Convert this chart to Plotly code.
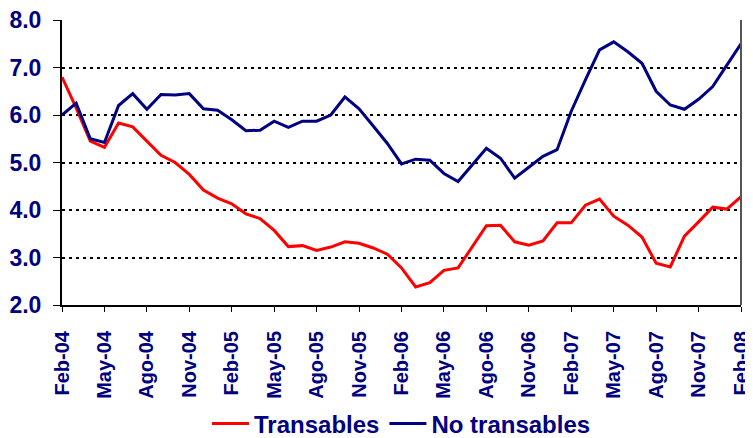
import plotly.graph_objects as go

meses = ["Feb", "Mar", "Abr", "May", "Jun", "Jul", "Ago", "Sep", "Oct", "Nov", "Dic", "Ene"]
# 49 monthly labels, Feb-04 .. Feb-08
fechas = []
for i in range(49):
    m = meses[i % 12]
    yr = 4 + (i + 1) // 12
    fechas.append(f"{m}-{yr:02d}")

transables = [6.80, 6.15, 5.45, 5.32, 5.83, 5.75, 5.45, 5.15, 5.00, 4.75, 4.42, 4.25,
              4.13, 3.92, 3.82, 3.57, 3.23, 3.25, 3.15, 3.22, 3.33, 3.30, 3.20, 3.07,
              2.78, 2.38, 2.47, 2.73, 2.78, 3.22, 3.67, 3.68, 3.33, 3.26, 3.35, 3.73,
              3.73, 4.10, 4.23, 3.87, 3.68, 3.43, 2.88, 2.80, 3.45, 3.75, 4.06, 4.02, 4.28]

no_transables = [6.00, 6.25, 5.50, 5.42, 6.20, 6.45, 6.12, 6.43, 6.42, 6.45, 6.13, 6.10,
                 5.90, 5.67, 5.68, 5.87, 5.74, 5.87, 5.87, 6.00, 6.38, 6.13, 5.77, 5.40,
                 4.97, 5.07, 5.05, 4.77, 4.60, 4.95, 5.30, 5.09, 4.67, 4.90, 5.13, 5.27,
                 6.08, 6.74, 7.37, 7.54, 7.33, 7.09, 6.50, 6.21, 6.12, 6.33, 6.60, 7.05, 7.50]

tick_fechas = fechas[::3]
y_ticks = [2, 3, 4, 5, 6, 7, 8]
navy = "#000080"
fuente = "Liberation Sans, Arial"

fig = go.Figure()
fig.add_trace(go.Scatter(x=fechas, y=transables, name="<b>Transables</b>", mode="lines",
                         line=dict(color="#ff0000", width=3)))
fig.add_trace(go.Scatter(x=fechas, y=no_transables, name="<b>No transables</b>", mode="lines",
                         line=dict(color=navy, width=3)))

# the page body adds an 8px margin, so left/top margins are 8px smaller;
# extra height below keeps the legend from squeezing the plot
fig.update_layout(
    width=753, height=470,
    margin=dict(l=54, r=20, t=12, b=173),
    paper_bgcolor="white", plot_bgcolor="white",
    font=dict(family=fuente, color=navy),
    showlegend=True,
    legend=dict(orientation="h", x=0.5, xanchor="center", y=-0.4175, yanchor="middle",
                font=dict(size=24, color=navy, family=fuente),
                itemwidth=37, tracegroupgap=0),
)
fig.update_xaxes(
    type="category", range=[0, 48], automargin=False,
    tickvals=tick_fechas, ticktext=[f"<b>{t}</b>" for t in tick_fechas], tickangle=-90,
    tickfont=dict(size=20, color=navy, family=fuente),
    ticks="outside", ticklen=5, tickcolor="black", tickwidth=1, ticklabelstandoff=11,
    ticklabeloverflow="allow",
    showline=True, linecolor="black", linewidth=2,
    showgrid=False, zeroline=False,
)
fig.update_yaxes(
    range=[2, 8], automargin=False,
    tickvals=y_ticks, ticktext=[f"<b>{v:.1f}</b>" for v in y_ticks],
    tickfont=dict(size=23, color=navy, family=fuente),
    ticks="outside", ticklen=7, tickcolor="black", ticklabelstandoff=7,
    ticklabeloverflow="allow",
    showline=True, linecolor="black", linewidth=2,
    showgrid=True, gridcolor="black", gridwidth=2, griddash="3px,4px",
    zeroline=False,
)
fig.add_shape(type="line", xref="paper", yref="paper", x0=1, x1=1, y0=0, y1=1,
              line=dict(color="#555555", width=2))

fig.write_html("out.html")
